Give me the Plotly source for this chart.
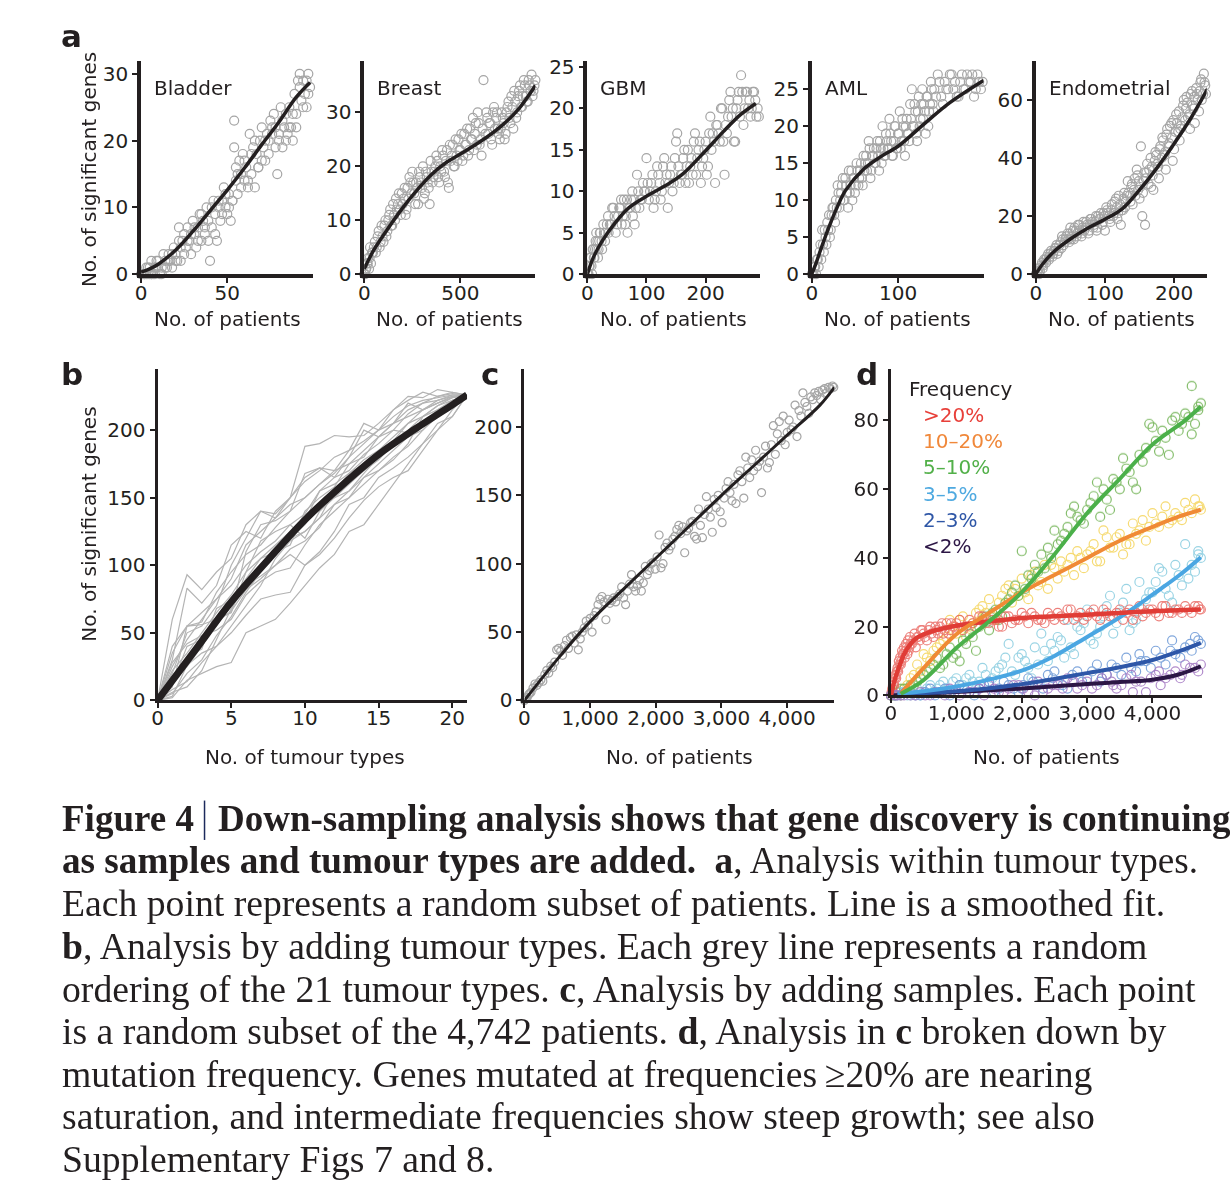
import plotly.graph_objects as go

W, H = 1230, 1196
INK = "#231f20"
GREY = "#a5a5a5"
SANS = "DejaVu Sans"
SERIF = "Liberation Serif"

# ---------------- Panel a data ----------------
bladder_x = [0,1,2,3,4,5,6,7,8,3,5,6,8,9,10,11,12,13,14,15,16,17,18,19,20,21,22,22,23,24,25,26,27,28,29,30,31,32,33,34,35,36,37,38,39,40,41,42,43,44,45,46,47,48,49,50,51,52,53,54,54,55,55,56,57,58,59,60,61,62,63,64,65,66,67,68,69,70,71,72,73,74,75,76,77,78,79,80,81,82,83,84,85,86,87,88,89,90,91,92,93,94,95,96,97,98,
             2,4,6,9,12,14,16,18,20,23,25,27,29,31,33,35,37,39,41,43,45,47,49,51,53,56,58,60,62,64,66,68,70,72,74,76,78,80,82,84,86,88,90,92,94,96,97]
bladder_y = [0,0,0,0,0,0,0,0,0,1,1,2,1,1,2,0,1,3,2,1,3,2,1,4,3,2,7,5,2,5,6,4,7,5,3,8,6,4,7,9,5,8,6,10,5,2,7,11,9,5,10,8,11,13,10,9,12,8,11,19,23,16,14,12,17,15,18,14,16,13,21,15,19,13,18,16,20,22,19,17,21,20,23,21,24,22,15,20,25,19,22,24,21,25,22,20,27,24,29,30,26,29,27,25,30,28,
             0,1,0,2,0,1,2,3,2,4,3,5,6,7,5,9,7,8,10,6,11,9,12,10,11,15,13,17,14,18,20,16,17,20,18,22,19,21,23,20,22,24,22,28,25,29,27]
bladder_fit_x = [0, 5, 10, 20, 30, 40, 50, 60, 70, 80, 90, 98]
bladder_fit_y = [0.3, 0.8, 1.5, 3.6, 6.4, 9.5, 12.6, 15.9, 19.4, 22.8, 26.5, 28.7]

breast_x = [0,5,10,15,20,25,30,35,40,50,60,70,80,90,100,110,120,130,140,150,160,170,180,190,200,210,220,230,240,250,260,270,280,290,300,310,320,330,340,350,360,370,380,390,400,410,420,430,440,450,460,470,480,490,500,510,520,530,540,550,560,570,580,590,600,610,620,630,640,650,660,670,680,690,700,710,720,730,740,750,760,770,780,790,800,810,820,830,840,850,860,870,880,890,
            8,18,28,45,55,65,75,85,95,105,115,125,135,145,155,165,175,185,195,205,215,225,235,245,255,265,275,285,295,305,315,325,335,345,355,365,375,385,395,405,415,425,435,445,455,465,475,485,495,505,515,525,535,545,555,565,575,585,595,605,615,635,645,655,665,675,685,695,705,715,725,735,745,755,765,775,785,795,805,815,825,835,845,855,865,875,885]
breast_y = [0,0,1,2,3,1,5,2,4,5,4,7,5,9,6,10,8,11,9,13,10,12,15,11,13,16,12,14,17,19,15,17,13,18,16,14,19,17,13,19,18,20,21,17,19,22,18,23,16,21,24,20,22,25,23,21,26,24,22,27,25,23,28,30,24,22,36,26,29,28,25,30,27,30,26,27,29,25,30,32,28,31,34,29,33,35,31,36,33,32,35,37,34,36,
            1,2,3,4,6,5,8,6,7,9,7,10,12,9,11,14,13,12,15,14,11,16,18,15,17,13,16,19,17,20,15,18,16,21,17,19,22,18,20,23,19,21,17,24,22,20,25,21,23,26,22,24,27,23,25,29,26,24,28,25,27,30,26,28,24,31,29,27,25,30,28,26,31,29,33,27,32,30,34,31,33,35,32,36,34,33,35]
breast_fit_x = [0, 50, 120, 200, 260, 350, 430, 500, 600, 720, 800, 890]
breast_fit_y = [1, 4.5, 8.3, 12.3, 15, 18.5, 20.8, 22.3, 24.5, 27.7, 30.5, 35]

gbm_x = [0,2,4,6,8,10,12,14,16,18,20,22,25,28,30,33,36,40,44,48,52,55,58,62,65,68,70,74,77,80,84,88,92,96,100,104,108,112,116,120,124,128,132,136,140,144,148,152,156,160,164,168,172,176,180,184,188,192,196,200,204,208,212,216,220,224,228,232,236,240,244,248,252,256,260,264,268,272,276,280,284,288,290,
         1,3,5,7,9,11,13,15,17,19,21,24,27,31,35,38,42,46,50,54,57,60,64,67,72,76,79,82,86,90,94,98,102,106,110,114,118,122,126,130,134,138,142,146,150,154,158,162,166,170,174,178,182,186,190,194,198,202,206,210,214,218,222,226,230,234,238,242,246,250,254,258,262,266,270,274,278,282,286]
gbm_y = [0,0,1,2,0,3,2,4,3,2,4,5,3,5,4,6,5,6,8,5,7,8,6,9,7,5,8,9,7,6,12,8,9,10,14,9,11,8,10,12,9,13,11,8,12,10,14,17,11,12,15,13,11,14,16,12,15,11,14,16,13,19,17,11,18,16,20,12,17,21,19,16,20,22,24,18,22,20,19,22,21,20,19,
         0,1,2,1,3,2,3,5,4,3,5,4,6,5,7,6,8,7,6,8,9,7,6,9,8,10,9,8,10,9,11,10,11,10,12,9,13,11,10,14,12,11,13,11,16,13,12,14,11,15,13,12,17,14,16,13,15,12,17,15,16,18,17,20,16,18,19,22,20,16,21,19,22,20,22,21,20,22,19]
gbm_fit_x = [0, 10, 25, 47, 70, 100, 130, 160, 200, 230, 260, 285]
gbm_fit_y = [0, 2, 4, 6.2, 8, 9.4, 10.6, 12, 14.9, 17.2, 19.3, 20.6]

aml_x = [0,2,4,6,8,10,12,14,16,18,20,22,24,26,28,30,32,34,36,38,40,42,44,46,48,50,52,54,56,58,60,62,64,66,68,70,72,74,76,78,80,82,84,86,88,90,92,94,96,98,100,102,104,106,108,110,112,114,116,118,120,122,124,126,128,130,132,134,136,138,140,142,146,150,154,158,162,166,170,174,178,182,186,190,194,198,
         1,3,5,7,9,11,13,15,17,19,21,23,25,27,29,31,33,35,37,39,41,43,45,47,49,51,53,55,57,59,61,63,65,67,69,71,73,75,77,79,81,83,85,87,89,91,93,95,97,99,101,103,105,107,109,111,113,115,117,119,121,123,125,127,129,131,133,135,137,139,141,144,148,152,156,160,164,168,172,176,180,184,188,192,196]
aml_y = [0,0,1,2,1,4,6,3,5,7,8,6,9,8,10,12,9,11,13,10,12,9,11,14,13,11,15,12,14,13,16,15,14,18,13,16,17,15,18,14,17,20,16,19,17,21,18,16,20,17,19,22,18,20,16,21,19,23,25,20,22,18,24,21,25,23,19,24,22,26,23,25,27,24,26,25,27,26,24,27,25,26,27,25,26,26,
         0,1,0,2,3,2,4,6,4,6,5,8,9,7,9,11,10,12,10,13,11,14,12,10,13,12,14,13,15,12,14,16,15,17,14,16,15,17,16,18,15,17,16,18,17,19,16,18,20,17,19,17,21,18,20,19,18,21,20,23,19,22,20,23,21,22,24,20,23,25,22,24,26,23,25,27,25,24,26,25,27,26,24,27,25]
aml_fit_x = [0, 5, 10, 19, 30, 39, 60, 80, 100, 130, 160, 199]
aml_fit_y = [0, 1.5, 3.2, 6.1, 9.2, 11.3, 14.2, 15.9, 17.3, 20.3, 23.2, 26.2]

endo_x = [0,3,5,8,10,12,15,18,20,22,25,28,30,33,36,38,40,43,46,48,50,52,55,58,60,63,66,68,70,73,76,78,80,83,86,88,90,93,96,98,100,103,106,108,110,113,116,118,120,123,126,128,130,133,136,138,140,143,146,148,150,152,154,156,158,160,163,166,168,170,173,176,178,180,183,186,188,190,193,196,198,200,203,206,208,210,213,216,218,220,223,226,228,230,233,236,238,240,243,245,246,
          2,4,6,9,11,14,16,19,21,24,26,29,31,34,37,39,42,44,47,49,51,54,56,59,61,64,67,69,72,74,77,79,82,84,87,89,92,94,97,99,102,104,107,109,112,114,117,119,122,124,127,129,132,134,137,139,142,144,147,149,151,155,157,159,161,164,167,169,172,174,177,179,182,184,187,189,192,194,197,199,202,204,207,209,212,214,217,219,222,224,227,229,232,234,237,239,242,244]
endo_y = [0,1,0,3,2,5,4,7,6,8,7,9,10,8,11,13,10,12,14,11,16,13,12,15,14,17,13,16,15,18,14,17,19,16,18,15,20,19,17,21,15,22,20,18,24,21,26,19,27,17,22,28,25,32,27,30,24,33,36,29,26,44,20,32,17,35,31,40,37,29,42,38,33,44,47,41,36,50,45,52,39,43,55,49,46,51,58,53,61,54,50,63,57,52,62,56,66,60,69,65,62,
          1,2,1,4,3,5,6,5,7,6,8,9,7,10,9,12,11,13,12,14,12,15,16,13,17,15,14,18,16,17,15,19,18,17,20,16,19,21,18,20,23,21,19,22,20,25,23,21,24,22,26,23,27,28,25,31,29,27,34,32,30,28,35,33,38,36,30,34,39,41,37,43,40,46,42,48,44,51,47,53,49,52,56,50,54,60,57,59,55,62,58,61,64,60,63,67,62,66]
endo_fit_x = [0, 10, 25, 50, 75, 100, 125, 150, 175, 200, 225, 249]
endo_fit_y = [0, 3.5, 7.5, 12.1, 15.8, 18.9, 22.5, 29, 36.5, 44.9, 54, 64]

# ---------------- Panel b data ----------------
tumour_types = list(range(22))
b_orderings = [
    [0,60,93,82,95,105,130,140,138,150,188,190,196,195,196,205,215,225,224,230,228,226],
    [0,30,83,72,85,115,125,120,140,150,165,172,170,185,205,200,215,222,228,225,227,226],
    [0,10,55,56,60,65,110,130,133,140,168,172,165,180,190,200,205,210,215,220,224,226],
    [0,5,20,30,48,62,80,95,110,120,125,135,145,150,160,170,180,188,200,212,220,226],
    [0,18,30,42,55,72,90,105,115,125,133,155,160,168,175,185,195,205,210,218,222,226],
    [0,8,14,28,40,50,63,75,78,80,100,110,125,145,150,165,172,180,190,205,210,226],
    [0,22,35,50,65,78,95,118,125,130,120,140,150,160,170,178,190,200,210,215,220,226],
    [0,2,15,20,25,28,50,55,60,72,85,98,108,125,130,145,160,175,190,200,215,226],
    [0,12,40,45,60,65,95,105,110,115,140,150,158,175,180,195,200,198,205,215,222,226],
    [0,25,45,60,75,85,100,110,118,130,138,155,165,170,182,190,200,212,220,222,225,226],
    [0,15,25,40,58,66,82,90,100,112,118,128,145,155,168,180,190,195,205,212,218,226],
    [0,35,55,65,75,90,115,125,135,145,150,160,170,175,185,195,205,215,220,225,228,226],
    [0,6,10,22,45,68,85,92,100,108,100,108,120,135,148,158,165,170,185,200,210,226],
    [0,20,50,55,70,100,120,140,135,150,162,170,180,185,192,200,210,218,222,224,226,226],
    [0,28,42,48,52,60,78,88,95,98,115,130,140,150,165,175,185,195,200,210,218,226],
    [0,14,32,38,68,74,88,100,112,120,130,145,150,155,165,170,178,190,210,218,224,226],
    [0,3,26,35,40,55,70,85,105,118,125,135,155,168,178,185,192,205,215,220,225,226],
    [0,40,55,58,80,95,108,115,128,140,150,160,168,180,200,195,205,220,215,222,226,226],
]
b_fit_x = [0, 2.5, 5, 7.5, 10, 12.5, 15, 17.5, 20, 21]
b_fit_y = [0, 36.4, 72.9, 104, 133.6, 159, 182, 201, 218.7, 226]

# ---------------- Panel c data ----------------
c_x = [0,20,40,60,80,100,130,160,190,220,250,280,310,340,370,400,430,460,490,520,550,580,610,640,670,700,730,760,790,820,850,880,910,940,970,1000,1030,1060,1090,1120,1150,1180,1210,1240,1270,1300,1330,1360,1390,1420,1450,1480,1510,1540,1570,1600,1630,1660,1690,1720,1750,1780,1810,1840,1870,1900,1930,1960,1990,2020,2050,2080,2110,2140,2170,2200,2230,2260,2290,2320,2350,2380,2410,2440,2470,2500,2530,2560,2590,2620,2650,2680,2710,2740,2770,2800,2830,2860,2890,2920,2950,2980,3010,3040,3070,3100,3130,3160,3190,3220,3250,3280,3310,3340,3370,3400,3430,3460,3490,3520,3550,3580,3610,3640,3670,3700,3730,3760,3790,3820,3850,3880,3910,3940,3970,4000,4030,4060,4090,4120,4150,4180,4210,4240,4270,4300,4330,4360,4390,4420,4450,4480,4510,4540,4570,4600,4630,4660,4690,4710]
c_y = [0,1,2,4,5,6,9,12,11,13,15,14,19,22,20,25,24,28,37,38,36,33,40,44,38,46,47,42,48,37,45,50,53,58,55,60,50,62,65,70,74,76,72,59,74,71,73,75,72,76,78,83,75,70,80,85,92,83,80,84,88,80,86,98,92,95,100,101,96,105,121,97,100,112,115,110,113,118,120,125,128,122,127,108,124,126,130,131,120,118,140,128,119,136,149,140,134,123,147,141,150,138,130,148,155,160,152,146,158,144,165,168,160,148,178,170,163,176,168,183,171,175,152,178,186,170,174,187,201,180,195,204,190,208,187,196,205,198,200,216,193,212,208,225,218,215,210,222,220,225,223,226,220,227,228,225,229,228,230,229]
c_fit_x = [0, 500, 1000, 1500, 2000, 2500, 3000, 3500, 4000, 4500, 4720]
c_fit_y = [0, 30, 57.6, 81, 104, 127, 150, 172, 194, 216, 229]

# ---------------- Panel d data ----------------
freq_labels = [">20%", "10\u201320%", "5\u201310%", "3\u20135%", "2\u20133%", "<2%"]

red_x = [0,30,60,90,120,150,180,210,240,270,300,340,380,420,460,500,550,600,650,700,750,800,850,900,950,1000,1100,1200,1300,1400,1500,1600,1700,1800,1900,2000,2100,2200,2300,2400,2500,2600,2700,2800,2900,3000,3100,3200,3300,3400,3500,3600,3700,3800,3900,4000,4100,4200,4300,4400,4500,4600,4700,4740,
         10,20,40,50,70,80,100,110,130,140,160,170,190,200,220,230,250,260,280,290,320,360,400,440,480,520,580,620,680,720,780,820,880,920,980,1050,1150,1250,1350,1450,1550,1650,1750,1850,1950,2050,2150,2250,2350,2450,2550,2650,2750,2850,2950,3050,3150,3250,3350,3450,3550,3650,3750,3850,3950,4050,4150,4250,4350,4450,4550,4650,4720]
red_y = [0,3,5,7,10,9,12,11,14,13,15,16,14,17,19,18,16,20,17,19,20,18,21,19,20,21,19,22,20,23,21,22,20,23,22,24,21,23,22,24,22,23,25,22,24,23,25,22,24,23,25,24,22,26,24,25,23,26,24,25,26,24,26,25,
         1,2,4,3,6,5,8,7,9,11,10,13,12,14,13,15,12,16,14,17,15,18,17,16,19,17,19,18,20,18,21,19,18,21,20,22,20,21,23,21,22,20,23,21,22,23,24,22,21,23,24,22,25,23,22,24,23,25,23,24,22,25,24,23,25,24,26,24,25,24,25,26,25]
red_fit_x = [0, 50, 100, 200, 300, 400, 600, 800, 1000, 1500, 2000, 2500, 3000, 3500, 4000, 4740]
red_fit_y = [0, 4, 7, 12, 15, 16.8, 18.5, 19.5, 20.3, 21.5, 22.5, 23, 23.5, 24, 24.5, 25]

yel_x = [0,100,200,300,400,500,600,700,800,900,1000,1100,1200,1300,1400,1500,1600,1700,1800,1900,2000,2100,2200,2300,2400,2500,2600,2700,2800,2900,3000,3100,3200,3300,3400,3500,3600,3700,3800,3900,4000,4100,4200,4300,4400,4500,4600,4700,4740,450,850,1250,1650,2050,2450,2850,3250,3650,4050,4450,
         150,250,350,550,650,750,950,1050,1150,1350,1450,1550,1750,1850,1950,2150,2250,2350,2550,2650,2750,2950,3050,3150,3350,3450,3550,3750,3850,3950,4150,4250,4350,4550,4650,4720]
yel_y = [0,1,2,5,9,12,10,14,16,22,18,23,20,24,26,28,22,29,32,31,34,28,36,33,31,37,39,38,35,40,41,44,39,46,43,47,44,50,48,45,53,49,55,51,52,56,53,55,54,7,17,21,27,30,38,42,48,44,50,51,
         0,3,6,11,13,15,19,22,17,25,24,23,31,27,29,35,32,38,34,36,40,37,42,39,43,46,41,47,51,49,52,50,53,54,57,55]
orange_fit_x = [150, 500, 1000, 1500, 2000, 2500, 3000, 3500, 4000, 4400, 4740]
orange_fit_y = [0.5, 8, 17.8, 24, 30, 35, 40, 45, 49, 52, 54]

green_x = [0,100,200,300,400,500,600,700,800,900,1000,1100,1200,1300,1400,1500,1600,1700,1800,1900,2000,2100,2200,2300,2400,2500,2600,2700,2800,2900,3000,3100,3200,3300,3400,3500,3600,3700,3800,3900,4000,4100,4200,4300,4400,4500,4600,4700,4740,1050,1450,1950,2350,2750,3150,3550,3950,4350,4650,
           50,150,250,350,450,550,650,750,850,950,1150,1250,1350,1550,1650,1750,1850,2050,2150,2250,2450,2550,2650,2850,2950,3050,3250,3350,3450,3650,3750,3850,4050,4150,4250,4450,4550,4600,4700]
green_y = [0,1,2,3,4,6,8,11,9,14,12,16,18,13,22,19,25,23,28,32,42,35,38,41,43,48,45,49,55,51,54,58,52,57,63,60,66,62,70,72,78,71,75,80,77,82,90,84,85,10,23,29,37,53,62,69,79,81,79,
           0,2,1,3,5,7,9,8,12,11,15,17,20,24,22,27,30,31,34,36,40,44,47,52,50,56,60,54,62,65,60,68,74,77,70,79,81,76,83]
green_fit_x = [150, 500, 1000, 1500, 2000, 2500, 3000, 3500, 4000, 4500, 4740]
green_fit_y = [0.5, 4.5, 13.8, 21.5, 30, 41, 53, 63, 73, 80, 84]

lb_x = [0,100,200,300,400,500,600,700,800,900,1000,1100,1200,1300,1400,1500,1600,1700,1800,1900,2000,2100,2200,2300,2400,2500,2600,2700,2800,2900,3000,3100,3200,3300,3400,3500,3600,3700,3800,3900,4000,4100,4200,4300,4400,4500,4600,4700,4740,1250,1750,2150,2550,2950,3350,3750,4150,4550,
        50,150,250,350,450,550,650,750,850,950,1050,1150,1350,1450,1550,1650,1850,1950,2050,2250,2350,2450,2650,2750,2850,3050,3150,3250,3450,3550,3650,3850,3950,4050,4250,4350,4450,4650,4700]
lb_y = [0,0,1,0,2,1,3,2,4,1,5,3,6,2,8,4,7,9,15,6,12,8,14,18,10,13,16,22,12,19,25,15,20,26,18,24,31,21,33,28,30,37,31,27,35,44,38,41,40,4,11,5,17,21,29,22,36,34,
        0,1,0,1,0,2,1,3,2,4,3,5,4,6,5,8,7,11,10,9,13,15,11,14,20,16,18,23,21,27,19,25,30,33,29,38,32,36,42]
lb_fit_x = [100, 500, 1000, 1500, 2000, 2500, 3000, 3500, 4000, 4400, 4740]
lb_fit_y = [0.5, 1.2, 2.6, 4.6, 7.2, 11.5, 17, 22.7, 29.3, 34.8, 40.2]

blue_x = [0,150,300,450,600,750,900,1050,1200,1350,1500,1650,1800,1950,2100,2250,2400,2550,2700,2850,3000,3150,3300,3450,3600,3750,3900,4050,4200,4350,4500,4650,4740,2000,2500,3200,3800,4300,4600,
          75,225,375,525,675,825,975,1125,1275,1425,1575,1725,1875,2025,2175,2325,2475,2625,2775,2925,3075,3225,3375,3525,3675,3825,3975,4125,4275,4425,4575,4700]
blue_y = [0,0,1,0,2,1,0,3,1,2,4,2,3,1,5,3,6,4,2,7,5,9,6,8,11,7,10,13,9,12,14,17,15,2,7,4,12,16,13,
          0,1,0,1,0,2,1,2,0,3,1,4,2,3,4,2,5,3,6,4,7,5,9,6,8,10,8,11,13,11,15,16]
blue_fit_x = [100, 1000, 1500, 2000, 2500, 3000, 3500, 4000, 4400, 4740]
blue_fit_y = [0.3, 1.2, 2.1, 3.3, 4.8, 6.5, 8.2, 10.3, 12.8, 15.3]

pur_x = [0,150,300,450,600,750,900,1050,1200,1350,1500,1650,1800,1950,2100,2250,2400,2550,2700,2850,3000,3150,3300,3450,3600,3750,3900,4050,4200,4350,4500,4650,4740,2200,2800,3400,3700,4100,4450,
         75,225,375,525,675,825,975,1125,1275,1425,1575,1725,1875,2025,2175,2325,2475,2625,2775,2925,3075,3225,3375,3525,3675,3825,3975,4125,4275,4425,4575,4700,50,100,200]
pur_y = [0,0,0,1,0,1,2,0,1,2,3,1,2,3,1,4,2,3,5,2,4,3,6,2,5,4,1,6,5,7,9,8,9,0,4,3,1,7,6,
         0,1,0,0,1,0,1,2,1,0,2,1,3,2,3,1,3,2,4,3,2,5,4,3,6,4,5,3,6,5,8,7,0,0,0]
pur_fit_x = [0, 1000, 2000, 3000, 3500, 4000, 4400, 4740]
pur_fit_y = [0, 1, 2, 3.3, 3.9, 4.6, 6.1, 8.5]

# ---------------- Caption text ----------------
caption_title_a = "Figure 4"
caption_title_b = "Down-sampling analysis shows that gene discovery is continuing"
caption_lines = [
    "<b>as samples and tumour types are added.</b>\u00a0\u00a0<b>a</b>, Analysis within tumour types.",
    "Each point represents a random subset of patients. Line is a smoothed fit.",
    "<b>b</b>, Analysis by adding tumour types. Each grey line represents a random",
    "ordering of the 21 tumour types. <b>c</b>, Analysis by adding samples. Each point",
    "is a random subset of the 4,742 patients. <b>d</b>, Analysis in <b>c</b> broken down by",
    "mutation frequency. Genes mutated at frequencies\u2009\u226520% are nearing",
    "saturation, and intermediate frequencies show steep growth; see also",
    "Supplementary Figs 7 and 8.",
]

# ---------------- helpers ----------------
def fx(p):
    return p / W

def fy(p):
    return 1 - p / H

fig = go.Figure()
layout = {}
annotations = []

def make_axes(idx, xdom, ydom, xrange, yrange, xticks, yticks, lw, xfmt=None):
    sx = "" if idx == 1 else str(idx)
    xa = dict(domain=[fx(xdom[0]), fx(xdom[1])], range=xrange, anchor="y" + sx,
              showline=True, linecolor=INK, linewidth=lw, ticks="outside", ticklen=5,
              tickwidth=2, tickcolor=INK, showgrid=False, zeroline=False,
              tickvals=xticks, tickfont=dict(family=SANS, size=20, color=INK),
              ticklabelstandoff=-7, fixedrange=True)
    if xfmt:
        xa["tickformat"] = xfmt
    ya = dict(domain=[fy(ydom[1]), fy(ydom[0])], range=yrange, anchor="x" + sx,
              showline=True, linecolor=INK, linewidth=lw, ticks="outside", ticklen=5,
              tickwidth=2, tickcolor=INK, showgrid=False, zeroline=False,
              tickvals=yticks, tickfont=dict(family=SANS, size=20, color=INK),
              fixedrange=True)
    layout["xaxis" + sx] = xa
    layout["yaxis" + sx] = ya
    return "x" + sx, "y" + sx

def pts(xs, ys, ax, color=GREY, size=9, opacity=1.0):
    fig.add_trace(go.Scatter(x=xs, y=ys, mode="markers", xaxis=ax[0], yaxis=ax[1],
                             cliponaxis=False, opacity=opacity,
                             marker=dict(symbol="circle-open", size=size, color=color,
                                         line=dict(width=1.2))))

def fitline(xs, ys, ax, color=INK, width=3.5):
    fig.add_trace(go.Scatter(x=xs, y=ys, mode="lines", xaxis=ax[0], yaxis=ax[1],
                             cliponaxis=False,
                             line=dict(shape="spline", smoothing=1.0, width=width, color=color)))

def text(s, x, y, size=20, color=INK, xanchor="left", family=SANS, angle=0):
    annotations.append(dict(text=s, x=fx(x), y=fy(y), xref="paper", yref="paper",
                            showarrow=False, xanchor=xanchor, yanchor="middle",
                            borderpad=0, textangle=angle,
                            font=dict(family=family, size=size, color=color)))

# ---------------- Panel a ----------------
a_y = (56, 272.3)
panels_a = [
    ("Bladder", (135.7, 309), [0, 100], [0, 31.9], [0, 50], [0, 10, 20, 30], bladder_x, bladder_y, bladder_fit_x, bladder_fit_y),
    ("Breast", (360, 532), [0, 890], [0, 39.5], [0, 500], [0, 10, 20, 30], breast_x, breast_y, breast_fit_x, breast_fit_y),
    ("GBM", (584.2, 757.7), [0, 292], [0, 25.7], [0, 100, 200], [0, 5, 10, 15, 20, 25], gbm_x, gbm_y, gbm_fit_x, gbm_fit_y),
    ("AML", (809.7, 982.3), [0, 199], [0, 28.8], [0, 100], [0, 5, 10, 15, 20, 25], aml_x, aml_y, aml_fit_x, aml_fit_y),
    ("Endometrial", (1034.8, 1206.5), [0, 247], [0, 73.3], [0, 100, 200], [0, 20, 40, 60], endo_x, endo_y, endo_fit_x, endo_fit_y),
]
for i, (name, xd, xr, yr, xt, yt, px_, py_, fxs, fys) in enumerate(panels_a):
    ax = make_axes(i + 1, xd, a_y, xr, yr, xt, yt, 3.5)
    pts(px_, py_, ax, size=9)
    fitline(fxs, fys, ax, width=3.5)
    text(name, xd[0] + 12, 83)
    text("No. of patients", (xd[0] + xd[1]) / 2, 318, xanchor="center")
text("No. of significant genes", 83, 166, angle=-90, xanchor="center")
text("<b>a</b>", 54, 30, size=31)

# ---------------- Panel b ----------------
axb = make_axes(6, (152.3, 463.3), (368.3, 705), [0, 21], [0, 245.4], [0, 5, 10, 15, 20], [0, 50, 100, 150, 200], 3)
for ys in b_orderings:
    fig.add_trace(go.Scatter(x=tumour_types, y=ys, mode="lines", xaxis=axb[0], yaxis=axb[1],
                             line=dict(color="#b4b4b4", width=1.2)))
fitline(b_fit_x, b_fit_y, axb, width=7)
text("No. of tumour types", 300, 762, xanchor="center")
text("No. of significant genes", 83, 526, angle=-90, xanchor="center")
text("<b>b</b>", 54, 374, size=31)

# ---------------- Panel c ----------------
axc = make_axes(7, (521, 832.3), (368.3, 705), [0, 4717], [0, 242.6], [0, 1000, 2000, 3000, 4000], [0, 50, 100, 150, 200], 3, xfmt=",")
pts(c_x, c_y, axc, size=8)
fitline(c_fit_x, c_fit_y, axc, width=3)
text("No. of patients", 677, 762, xanchor="center")
text("<b>c</b>", 476, 374, size=31)

# ---------------- Panel d ----------------
axd = make_axes(8, (889.3, 1201.7), (368.3, 700), [0, 4755], [0, 95], [0, 1000, 2000, 3000, 4000], [0, 20, 40, 60, 80], 3, xfmt=",")
pts(yel_x, yel_y, axd, color="#f5d55c", size=9, opacity=0.85)
pts(green_x, green_y, axd, color="#6cb04e", size=9, opacity=0.85)
pts(lb_x, lb_y, axd, color="#8acde0", size=9, opacity=0.85)
pts(red_x, red_y, axd, color="#e8605a", size=9, opacity=0.8)
pts(blue_x, blue_y, axd, color="#6b98d6", size=9, opacity=0.85)
pts(pur_x, pur_y, axd, color="#a377c2", size=9, opacity=0.85)
fitline(pur_fit_x, pur_fit_y, axd, color="#2c1645", width=4)
fitline(blue_fit_x, blue_fit_y, axd, color="#2e57a8", width=4)
fitline(lb_fit_x, lb_fit_y, axd, color="#4aa6e2", width=4)
fitline(red_fit_x, red_fit_y, axd, color="#e03c36", width=4.5)
fitline(orange_fit_x, orange_fit_y, axd, color="#f08a35", width=4)
fitline(green_fit_x, green_fit_y, axd, color="#4bb04a", width=4)
text("No. of patients", 1046, 762, xanchor="center")
text("<b>d</b>", 853, 374, size=31)
legend_colors = ["#e8403a", "#f0883a", "#52b049", "#4ea9e0", "#2e56a6", "#2c1645"]
text("Frequency", 906, 389)
for i, (lab, col) in enumerate(zip(freq_labels, legend_colors)):
    text(lab, 920, 415.5 + 26.5 * i, color=col)

# ---------------- Caption ----------------
text("<b>" + caption_title_a + "</b>", 55, 825, size=37, family=SERIF)
text("<b>" + caption_title_b + "</b>", 212, 825, size=37, family=SERIF)
cap_sizes = [37.2, 37.7, 37.7, 37.7, 37.7, 37.7, 37.7, 37.7]
for i, (line, sz) in enumerate(zip(caption_lines, cap_sizes)):
    text(line, 55, 868 + 43.2 * i, size=sz, family=SERIF)

shapes = [dict(type="line", xref="paper", yref="paper", x0=fx(199.5), x1=fx(199.5),
               y0=fy(806.7), y1=fy(846.7), line=dict(color="#1c2a5c", width=1.5))]

fig.update_layout(width=W, height=H, margin=dict(l=0, r=0, t=0, b=0),
                  paper_bgcolor="white", plot_bgcolor="white", showlegend=False,
                  annotations=annotations, shapes=shapes, **layout)
fig.write_html("out.html", config={"displayModeBar": False},
               post_script="document.body.style.margin='0';document.body.style.padding='0';document.body.style.overflow='hidden';")
